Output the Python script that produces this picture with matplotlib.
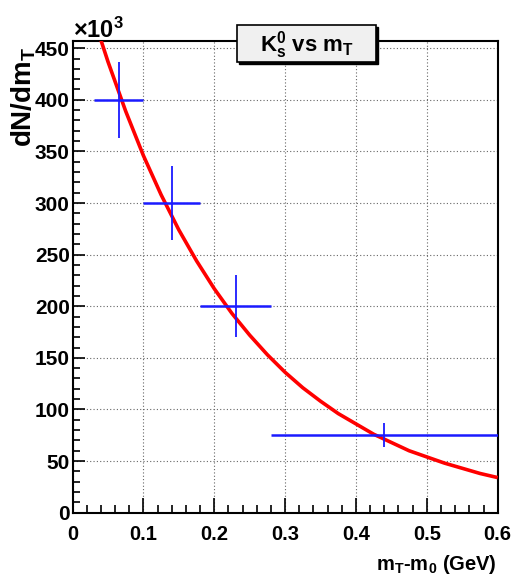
import matplotlib
matplotlib.use("Agg")
import matplotlib.pyplot as plt
from matplotlib.patches import Rectangle
from matplotlib.ticker import MultipleLocator, FuncFormatter

plt.rcParams['font.family'] = ['Liberation Sans', 'DejaVu Sans']
plt.rcParams['mathtext.default'] = 'regular'

# measured points: centre, x range of the bin, y error
pt_x = [0.065, 0.14, 0.23, 0.44]
pt_y = [400, 300, 200, 75]
bin_lo = [0.03, 0.10, 0.18, 0.28]
bin_hi = [0.10, 0.18, 0.28, 0.60]
y_err = [37, 36, 30, 11.5]

# fit curve
curve_x = [0.04, 0.05, 0.075, 0.1, 0.125, 0.15, 0.175, 0.2, 0.225, 0.25, 0.275, 0.3,
           0.325, 0.35, 0.375, 0.4, 0.425, 0.45, 0.475, 0.5, 0.525, 0.55, 0.575, 0.6]
curve_y = [458, 437, 389, 346, 308, 274, 244, 217, 193, 172, 153, 136,
           121, 108, 96, 86, 76, 68, 60, 54, 48, 43, 38, 34]

fig = plt.figure(figsize=(5.14, 5.82), dpi=100)
ax = fig.add_axes([0.1411, 0.1191, 0.8272, 0.8105])

ax.plot(curve_x, curve_y, color='red', lw=2.6, zorder=3, solid_capstyle='butt')

xerr_lo = [c - l for c, l in zip(pt_x, bin_lo)]
xerr_hi = [h - c for c, h in zip(pt_x, bin_hi)]
ax.errorbar(pt_x, pt_y, xerr=[xerr_lo, xerr_hi], fmt='none', ecolor='#1a1aff',
            elinewidth=1.8, capsize=0, zorder=4)
ax.errorbar(pt_x, pt_y, yerr=y_err, fmt='none', ecolor='#1a1aff',
            elinewidth=1.3, capsize=0, zorder=4)

ax.set_xlim(0, 0.6)
ax.set_ylim(0, 457)
ax.xaxis.set_major_locator(MultipleLocator(0.1))
ax.xaxis.set_minor_locator(MultipleLocator(0.02))
ax.yaxis.set_major_locator(MultipleLocator(50))
ax.yaxis.set_minor_locator(MultipleLocator(10))
ax.xaxis.set_major_formatter(FuncFormatter(lambda v, p: '%g' % round(v, 2)))

ax.grid(True, which='major', color='#666666', linestyle=(0, (1, 2)), lw=0.8)
ax.set_axisbelow(True)

ax.tick_params(axis='x', which='major', direction='in', length=10.5, width=1.2, pad=9,
               labelsize=14.5)
ax.tick_params(axis='x', which='minor', direction='in', length=5.5, width=1.2)
ax.tick_params(axis='y', which='major', direction='in', length=8.5, width=1.2, pad=2,
               labelsize=15)
ax.tick_params(axis='y', which='minor', direction='in', length=4.8, width=1.2)
for lab in ax.get_xticklabels() + ax.get_yticklabels():
    lab.set_fontweight('bold')
for sp in ax.spines.values():
    sp.set_linewidth(1.5)

# x10^3 multiplier
fig.text(0.1411, (582 - 38) / 582, r'$\times10^{3}$', fontsize=17, ha='left',
         va='baseline', fontweight='bold')

# axis titles
fig.text(0.046, (582 - 97) / 582, r'dN/dm$_{T}$', rotation=90, ha='center', va='center',
         fontsize=20, fontweight='bold')
fig.text(497 / 514, (582 - 570) / 582, r'm$_{T}$-m$_{0}$ (GeV)', ha='right',
         va='baseline', fontsize=14.5, fontweight='bold')

# title box with shadow
bx0, bx1 = 237.3 / 514, 375.7 / 514
by0, by1 = (582 - 61.7) / 582, (582 - 25) / 582
fig.patches.append(Rectangle((bx0 + 2 / 514, by0 - 2 / 582), bx1 - bx0, by1 - by0,
                             transform=fig.transFigure, fc='black', ec='black', lw=1))
fig.patches.append(Rectangle((bx0, by0), bx1 - bx0, by1 - by0,
                             transform=fig.transFigure, fc='#f0f0f0', ec='black', lw=1.2))
fig.text(306.6 / 514, (582 - 51.7) / 582, r'K$^{0}_{s}$ vs m$_{T}$', ha='center',
         va='baseline', fontsize=16, fontweight='bold')

fig.savefig('out.png', dpi=100)
